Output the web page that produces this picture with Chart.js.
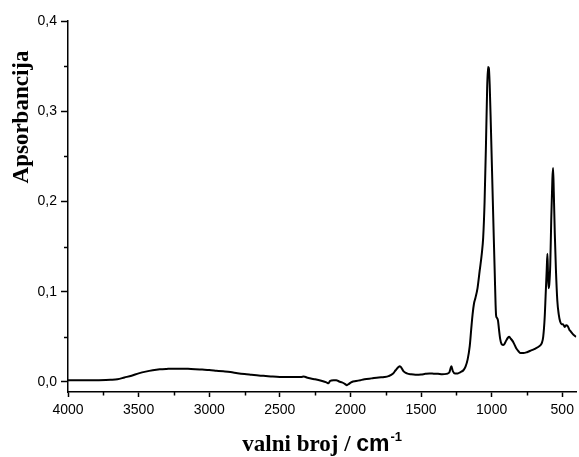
<!DOCTYPE html>
<html><head><meta charset="utf-8">
<script src="https://cdn.jsdelivr.net/npm/chart.js@4"></script>
<style>html,body{margin:0;padding:0;background:#fff;overflow:hidden}</style>
</head><body>
<canvas id="c" width="579" height="457"></canvas>
<script>
// IR spectrum: wavenumber (cm-1) and absorbance
const wavenumbers = [4000,3900,3800,3700,3650,3600,3550,3500,3450,3400,3350,3300,3250,3200,3150,3100,3050,3000,2950,2900,2850,2800,2750,2700,2650,2600,2550,2500,2450,2400,2350,2330,2310,2280,2250,2200,2170,2155,2145,2120,2100,2080,2060,2040,2025,2010,1990,1960,1930,1900,1850,1800,1760,1730,1700,1680,1660,1650,1640,1625,1600,1570,1540,1500,1470,1440,1410,1380,1350,1320,1300,1285,1275,1260,1240,1220,1200,1185,1170,1155,1145,1135,1125,1115,1100,1085,1070,1060,1050,1040,1032,1026,1020,1014,1005,995,985,978,972,968,962,955,948,940,930,920,910,900,885,875,865,850,840,825,810,795,775,750,720,690,660,645,635,625,618,610,605,601,597,592,585,578,570,565,560,553,545,535,525,515,505,495,482,472,462,450,440,425,410,402];
const absorbance = [0.002,0.002,0.002,0.0025,0.003,0.005,0.007,0.0095,0.0115,0.013,0.014,0.0145,0.0148,0.0148,0.0146,0.0142,0.0137,0.0132,0.0125,0.0118,0.011,0.0098,0.0088,0.008,0.0072,0.0066,0.006,0.0056,0.0055,0.0055,0.0055,0.0062,0.005,0.0038,0.003,0.001,-0.0005,-0.0015,0.001,0.002,0.002,0.0005,-0.0005,-0.002,-0.0035,-0.002,0.0,0.001,0.002,0.003,0.004,0.005,0.0055,0.0065,0.009,0.013,0.0165,0.0174,0.016,0.012,0.0095,0.0085,0.008,0.0082,0.009,0.0095,0.0092,0.009,0.0085,0.009,0.0105,0.0174,0.012,0.0095,0.0095,0.011,0.013,0.017,0.025,0.04,0.058,0.075,0.087,0.093,0.104,0.123,0.142,0.16,0.2,0.265,0.325,0.349,0.348,0.33,0.28,0.22,0.16,0.12,0.085,0.073,0.071,0.068,0.058,0.048,0.042,0.041,0.042,0.045,0.049,0.05,0.048,0.045,0.042,0.037,0.034,0.032,0.032,0.033,0.035,0.037,0.04,0.043,0.05,0.07,0.095,0.125,0.142,0.12,0.104,0.108,0.13,0.18,0.225,0.237,0.21,0.165,0.125,0.09,0.075,0.067,0.064,0.064,0.061,0.063,0.062,0.058,0.056,0.053,0.051,0.05];

const xMajorTicks = [4000,3500,3000,2500,2000,1500,1000,500];
const xMinorTicks = [3750,3250,2750,2250,1750,1250,750];
const yMajorTicks = [0,0.1,0.2,0.3,0.4];
const yMinorTicks = [0.05,0.15,0.25,0.35];
const yTitle = 'Apsorbancija';
const xTitleMain = 'valni broj / ';
const xTitleUnit = 'cm';
const xTitleSup = '-1';

const points = wavenumbers.map((w, i) => ({x: w, y: absorbance[i]}));

const extras = {
  id: 'extras',
  afterDraw(chart) {
    const ctx = chart.ctx, xs = chart.scales.x, ys = chart.scales.y;
    ctx.save();
    ctx.strokeStyle = '#000';
    ctx.lineWidth = 1.5;
    xMinorTicks.forEach(v => {
      const px = Math.round(xs.getPixelForValue(v)) + 0.5;
      ctx.beginPath(); ctx.moveTo(px, xs.top); ctx.lineTo(px, xs.top + 3.5); ctx.stroke();
    });
    yMinorTicks.forEach(v => {
      const py = Math.round(ys.getPixelForValue(v)) + 0.5;
      ctx.beginPath(); ctx.moveTo(ys.right, py); ctx.lineTo(ys.right - 4, py); ctx.stroke();
    });
    // y title
    ctx.fillStyle = '#000';
    ctx.save();
    ctx.translate(22, 117);
    ctx.rotate(-Math.PI / 2);
    ctx.font = 'bold 23px "Liberation Serif", "Times New Roman", serif';
    ctx.textAlign = 'center';
    ctx.textBaseline = 'middle';
    ctx.fillText(yTitle, 0, 0);
    ctx.restore();
    // x title
    const fMain = 'bold 23px "Liberation Serif", "Times New Roman", serif';
    const fUnit = 'bold 23px "Liberation Sans", Arial, sans-serif';
    const fSup = 'bold 13px "Liberation Sans", Arial, sans-serif';
    ctx.font = fMain; const w1 = ctx.measureText(xTitleMain).width;
    ctx.font = fUnit; const w2 = ctx.measureText(xTitleUnit).width;
    ctx.font = fSup; const w3 = ctx.measureText(xTitleSup).width;
    const cx = (chart.chartArea.left + chart.chartArea.right) / 2;
    let x0 = cx - (w1 + w2 + w3 + 1) / 2;
    const base = 451;
    ctx.textAlign = 'left';
    ctx.textBaseline = 'alphabetic';
    ctx.font = fMain; ctx.fillText(xTitleMain, x0, base); x0 += w1;
    ctx.font = fUnit; ctx.fillText(xTitleUnit, x0, base); x0 += w2 + 1;
    ctx.font = fSup; ctx.fillText(xTitleSup, x0, base - 10);
    ctx.restore();
  }
};

new Chart(document.getElementById('c').getContext('2d'), {
  type: 'line',
  data: { datasets: [{ data: points, borderColor: '#000', borderWidth: 2, pointRadius: 0, fill: false, cubicInterpolationMode: 'monotone' }] },
  options: {
    responsive: false, animation: false, devicePixelRatio: 1,
    layout: { padding: { top: 21, right: 2, left: 0, bottom: 0 } },
    plugins: { legend: { display: false }, tooltip: { enabled: false } },
    scales: {
      x: {
        type: 'linear', reverse: true, min: 400, max: 4000,
        afterBuildTicks: s => { s.ticks = xMajorTicks.map(v => ({ value: v })); },
        afterFit: s => { s.height = 65; },
        grid: { display: true, drawOnChartArea: false, drawTicks: true, tickLength: 5, tickWidth: 1.5, tickColor: '#000' },
        border: { display: true, color: '#000', width: 1.5 },
        ticks: { color: '#000', font: { family: '"Liberation Sans", Arial, sans-serif', size: 14 }, padding: 5, maxRotation: 0, autoSkip: false, callback: v => String(v) }
      },
      y: {
        min: -0.0111, max: 0.4,
        afterBuildTicks: s => { s.ticks = yMajorTicks.map(v => ({ value: v })); },
        afterFit: s => { s.width = 68; },
        grid: { display: true, drawOnChartArea: false, drawTicks: true, tickLength: 7, tickWidth: 1.5, tickColor: '#000' },
        border: { display: true, color: '#000', width: 1.5 },
        ticks: { color: '#000', font: { family: '"Liberation Sans", Arial, sans-serif', size: 14 }, padding: 4, autoSkip: false, callback: v => v.toFixed(1).replace('.', ',') }
      }
    }
  },
  plugins: [extras]
});
</script>
</body></html>
